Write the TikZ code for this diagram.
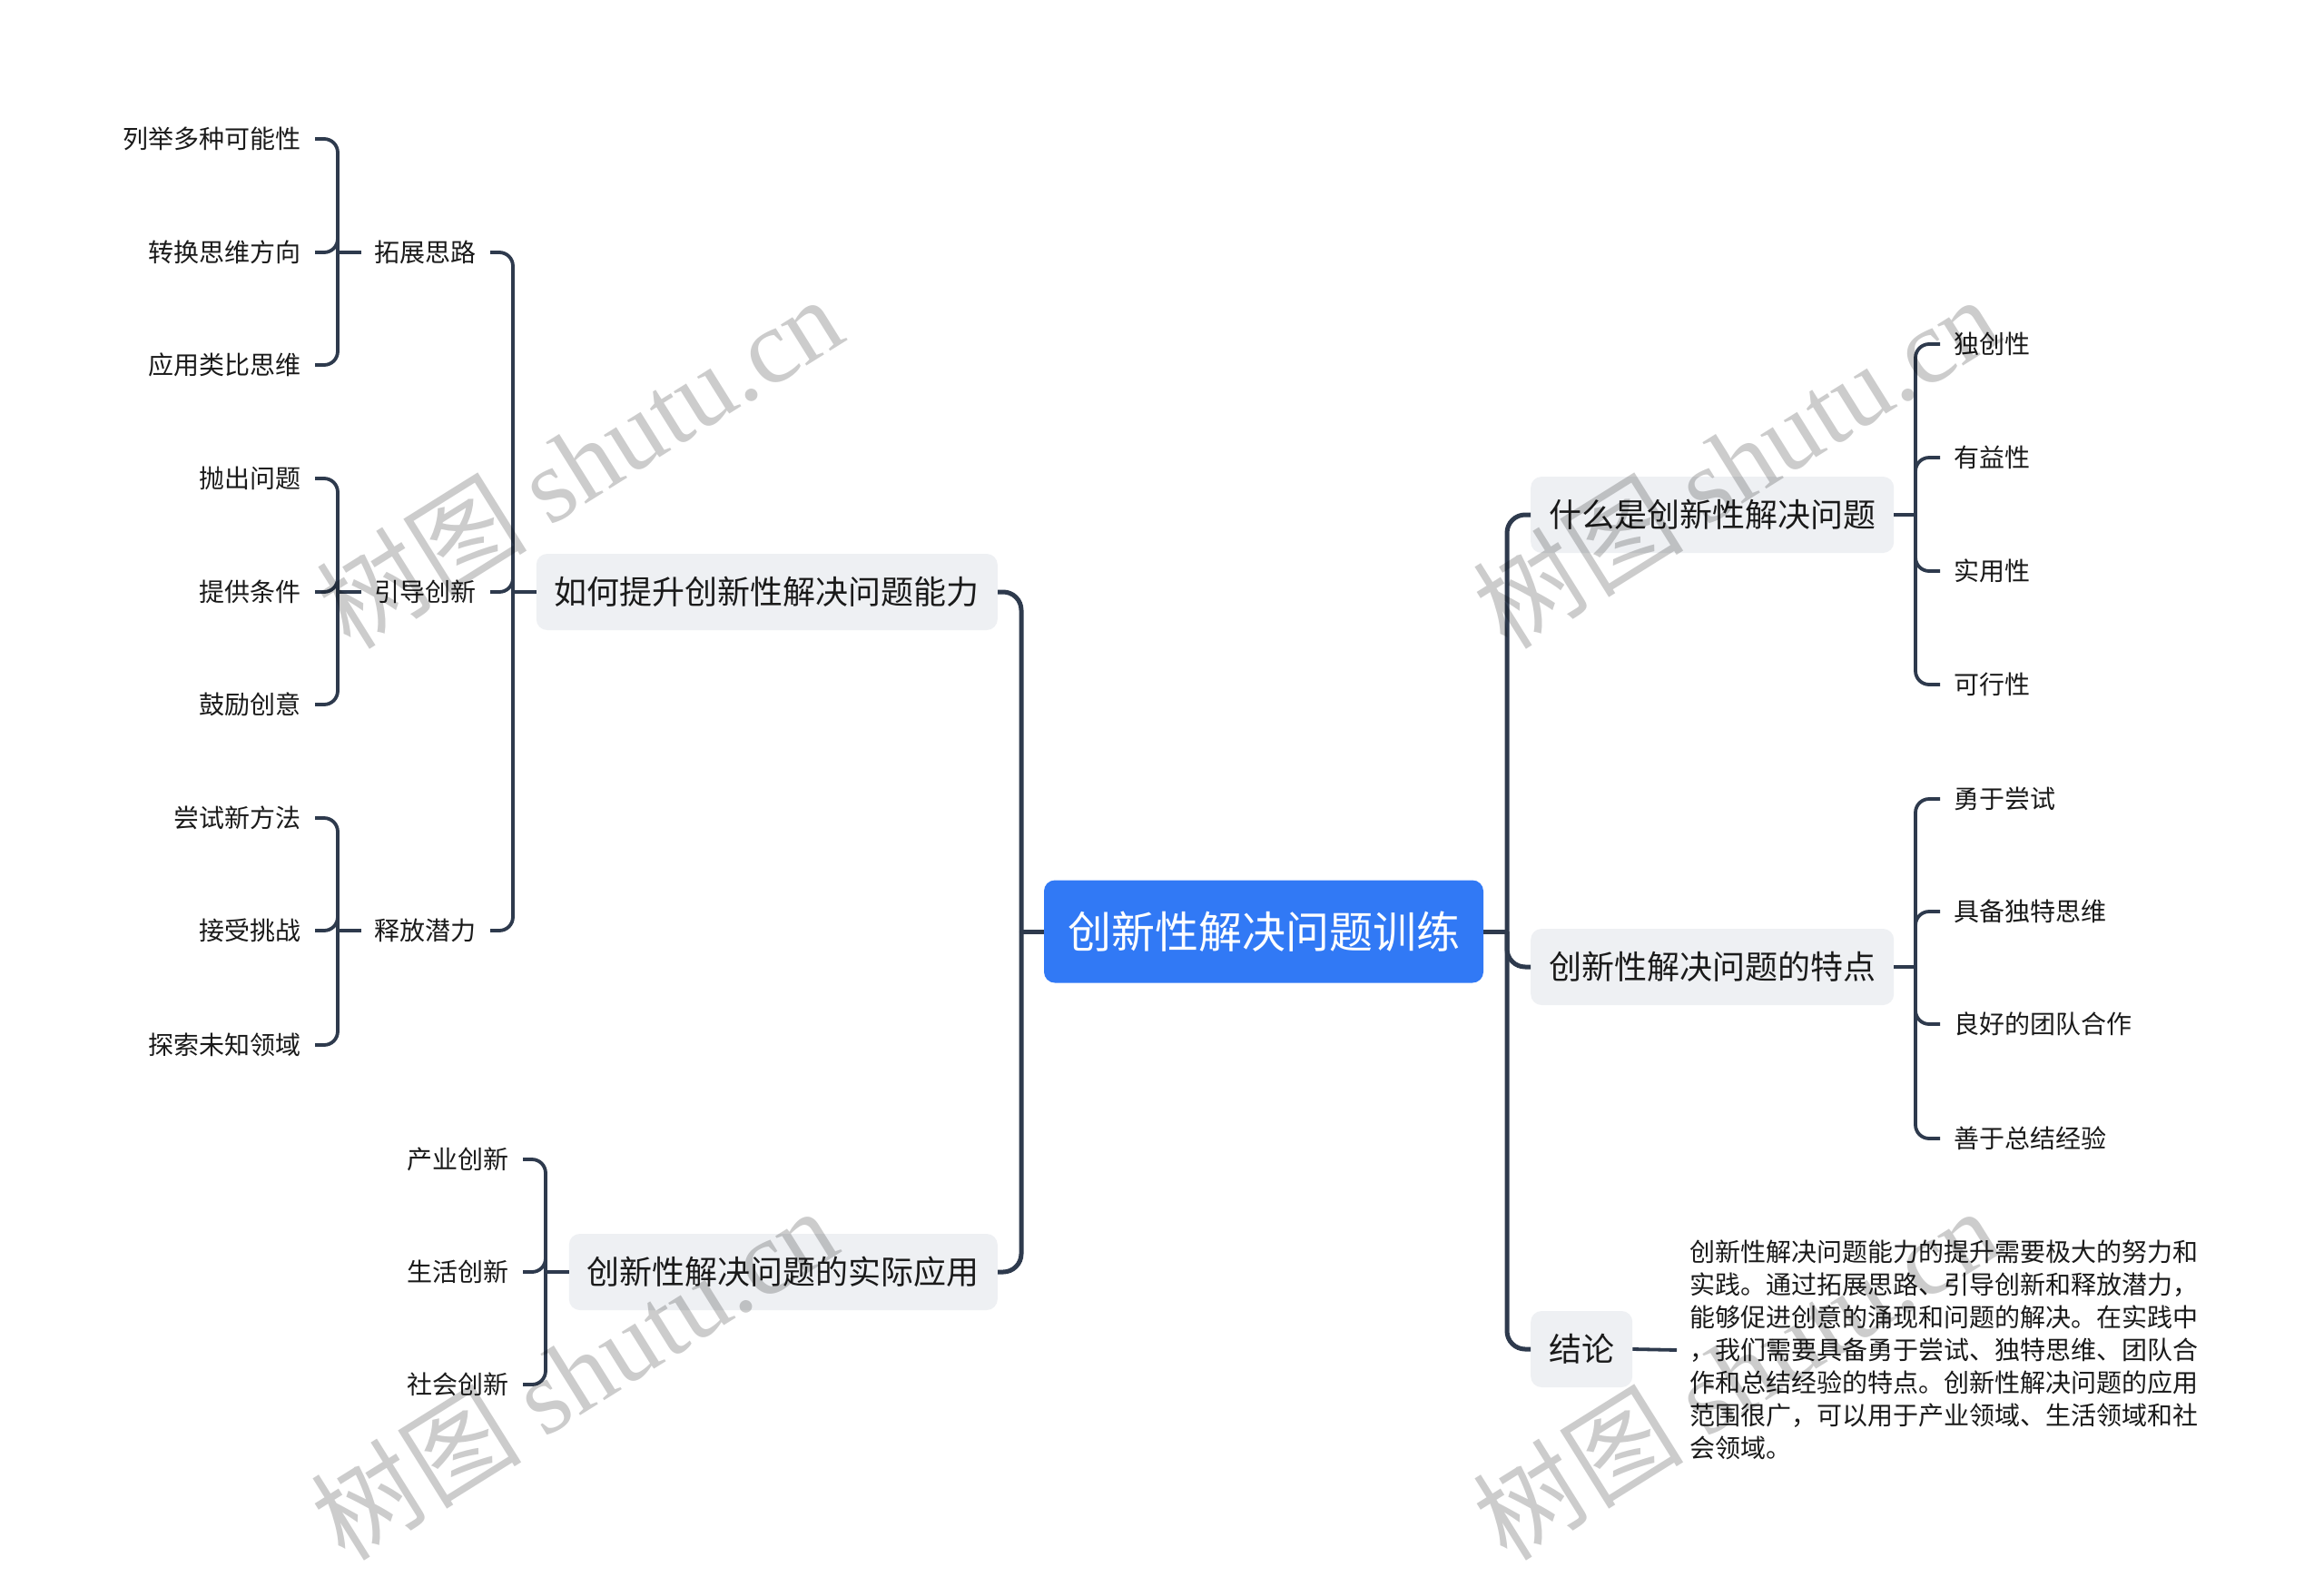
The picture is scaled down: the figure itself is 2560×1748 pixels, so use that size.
\documentclass[tikz,border=0pt]{standalone}
\usepackage{fontspec}
\setmainfont{Noto Sans CJK SC}
\newfontfamily\wmlatin{Liberation Serif}
\usetikzlibrary{calc}
\definecolor{linec}{HTML}{2E3A4D}
\definecolor{boxfill}{HTML}{EEF0F3}
\definecolor{mainblue}{HTML}{3179F5}
\definecolor{txt}{HTML}{1A1A1A}
\begin{document}
\begin{tikzpicture}[x=1pt,y=-1pt,
 leaf/.style={inner xsep=15pt, inner ysep=4pt, text=txt, font=\fontsize{28}{36}\selectfont},
 topic/.style={fill=boxfill, rounded corners=12pt, inner xsep=20pt, minimum height=84pt, text=txt, font=\fontsize{36}{40}\selectfont},
 root/.style={fill=mainblue, rounded corners=12pt, inner xsep=25pt, minimum height=113pt, minimum width=484pt, text=white, font=\fontsize{48}{52}\selectfont},
 conn/.style={draw=linec, line width=3.8pt, rounded corners=15pt},
 mainconn/.style={draw=linec, line width=5pt, rounded corners=20pt},
 wm/.style={text=black, rotate=32, font=\fontsize{116}{116}\selectfont, text opacity=0.2}
]
\useasboundingbox (0,0) rectangle (2560,1748);
\fill[white] (0,0) rectangle (2560,1748);

% root and topics
\node[root] (R) at (1392,1026) {创新性解决问题训练};
\node[topic, anchor=east] (L1) at (1099,652) {如何提升创新性解决问题能力};
\node[topic, anchor=east] (L2) at (1099,1401) {创新性解决问题的实际应用};
\node[topic, anchor=west] (R1) at (1686,567) {什么是创新性解决问题};
\node[topic, anchor=west] (R2) at (1686,1065) {创新性解决问题的特点};
\node[topic, anchor=west] (R3) at (1686,1486) {结论};

% level 2 left
\node[leaf, anchor=east] (A) at (540,278) {拓展思路};
\node[leaf, anchor=east] (B) at (540,652) {引导创新};
\node[leaf, anchor=east] (C) at (540,1025) {释放潜力};

% level 3 left
\node[leaf, anchor=east] (A1) at (347,153) {列举多种可能性};
\node[leaf, anchor=east] (A2) at (347,278) {转换思维方向};
\node[leaf, anchor=east] (A3) at (347,402) {应用类比思维};
\node[leaf, anchor=east] (B1) at (347,527) {抛出问题};
\node[leaf, anchor=east] (B2) at (347,652) {提供条件};
\node[leaf, anchor=east] (B3) at (347,776) {鼓励创意};
\node[leaf, anchor=east] (C1) at (347,901) {尝试新方法};
\node[leaf, anchor=east] (C2) at (347,1025) {接受挑战};
\node[leaf, anchor=east] (C3) at (347,1151) {探索未知领域};

\node[leaf, anchor=east] (D1) at (576,1277) {产业创新};
\node[leaf, anchor=east] (D2) at (576,1401) {生活创新};
\node[leaf, anchor=east] (D3) at (576,1525) {社会创新};

% right children
\node[leaf, anchor=west] (E1) at (2137,379) {独创性};
\node[leaf, anchor=west] (E2) at (2137,504) {有益性};
\node[leaf, anchor=west] (E3) at (2137,629) {实用性};
\node[leaf, anchor=west] (E4) at (2137,754) {可行性};
\node[leaf, anchor=west] (F1) at (2137,880) {勇于尝试};
\node[leaf, anchor=west] (F2) at (2137,1004) {具备独特思维};
\node[leaf, anchor=west] (F3) at (2137,1128) {良好的团队合作};
\node[leaf, anchor=west] (F4) at (2137,1254) {善于总结经验};

\node[leaf, anchor=west, inner xsep=14pt, align=left] (T) at (1847,1487) {创新性解决问题能力的提升需要极大的努力和\\实践。通过拓展思路、引导创新和释放潜力，\\能够促进创意的涌现和问题的解决。在实践中\\，我们需要具备勇于尝试、独特思维、团队合\\作和总结经验的特点。创新性解决问题的应用\\范围很广，可以用于产业领域、生活领域和社\\会领域。};

% junctions
\coordinate (jR) at (1660,1026);
\coordinate (jL) at (1125,1026);
\coordinate (jL1) at (565,652);
\coordinate (jA) at (372,278);
\coordinate (jB) at (372,652);
\coordinate (jC) at (372,1025);
\coordinate (jD) at (601,1401);
\coordinate (jR1) at (2110,567);
\coordinate (jR2) at (2110,1065);

% main connectors
\draw[mainconn] (R.east) -- (jR);
\draw[mainconn] (jR) |- (R1.west);
\draw[mainconn] (jR) |- (R2.west);
\draw[mainconn] (jR) |- (R3.west);
\draw[mainconn] (R.west) -- (jL);
\draw[mainconn] (jL) |- (L1.east);
\draw[mainconn] (jL) |- (L2.east);

% left branches
\draw[conn] (L1.west) -- (jL1);
\foreach \n in {A,B,C} \draw[conn] (jL1) |- (\n.east);
\draw[conn] (A.west) -- (jA);
\foreach \n in {A1,A2,A3} \draw[conn] (jA) |- (\n.east);
\draw[conn] (B.west) -- (jB);
\foreach \n in {B1,B2,B3} \draw[conn] (jB) |- (\n.east);
\draw[conn] (C.west) -- (jC);
\foreach \n in {C1,C2,C3} \draw[conn] (jC) |- (\n.east);
\draw[conn] (L2.west) -- (jD);
\foreach \n in {D1,D2,D3} \draw[conn] (jD) |- (\n.east);

% right branches
\draw[conn] (R1.east) -- (jR1);
\foreach \n in {E1,E2,E3,E4} \draw[conn] (jR1) |- (\n.west);
\draw[conn] (R2.east) -- (jR2);
\foreach \n in {F1,F2,F3,F4} \draw[conn] (jR2) |- (\n.west);
\draw[conn] (R3.east) -- (T.west);

% watermarks
\node[wm] (w1) at (638,508) {树图 {\wmlatin shutu.cn}};
\node[wm] (w2) at (1912,508) {树图 {\wmlatin shutu.cn}};
\node[wm] (w3) at (632,1512) {树图 {\wmlatin shutu.cn}};
\node[wm] (w4) at (1912,1512) {树图 {\wmlatin shutu.cn}};
\end{tikzpicture}
\end{document}
